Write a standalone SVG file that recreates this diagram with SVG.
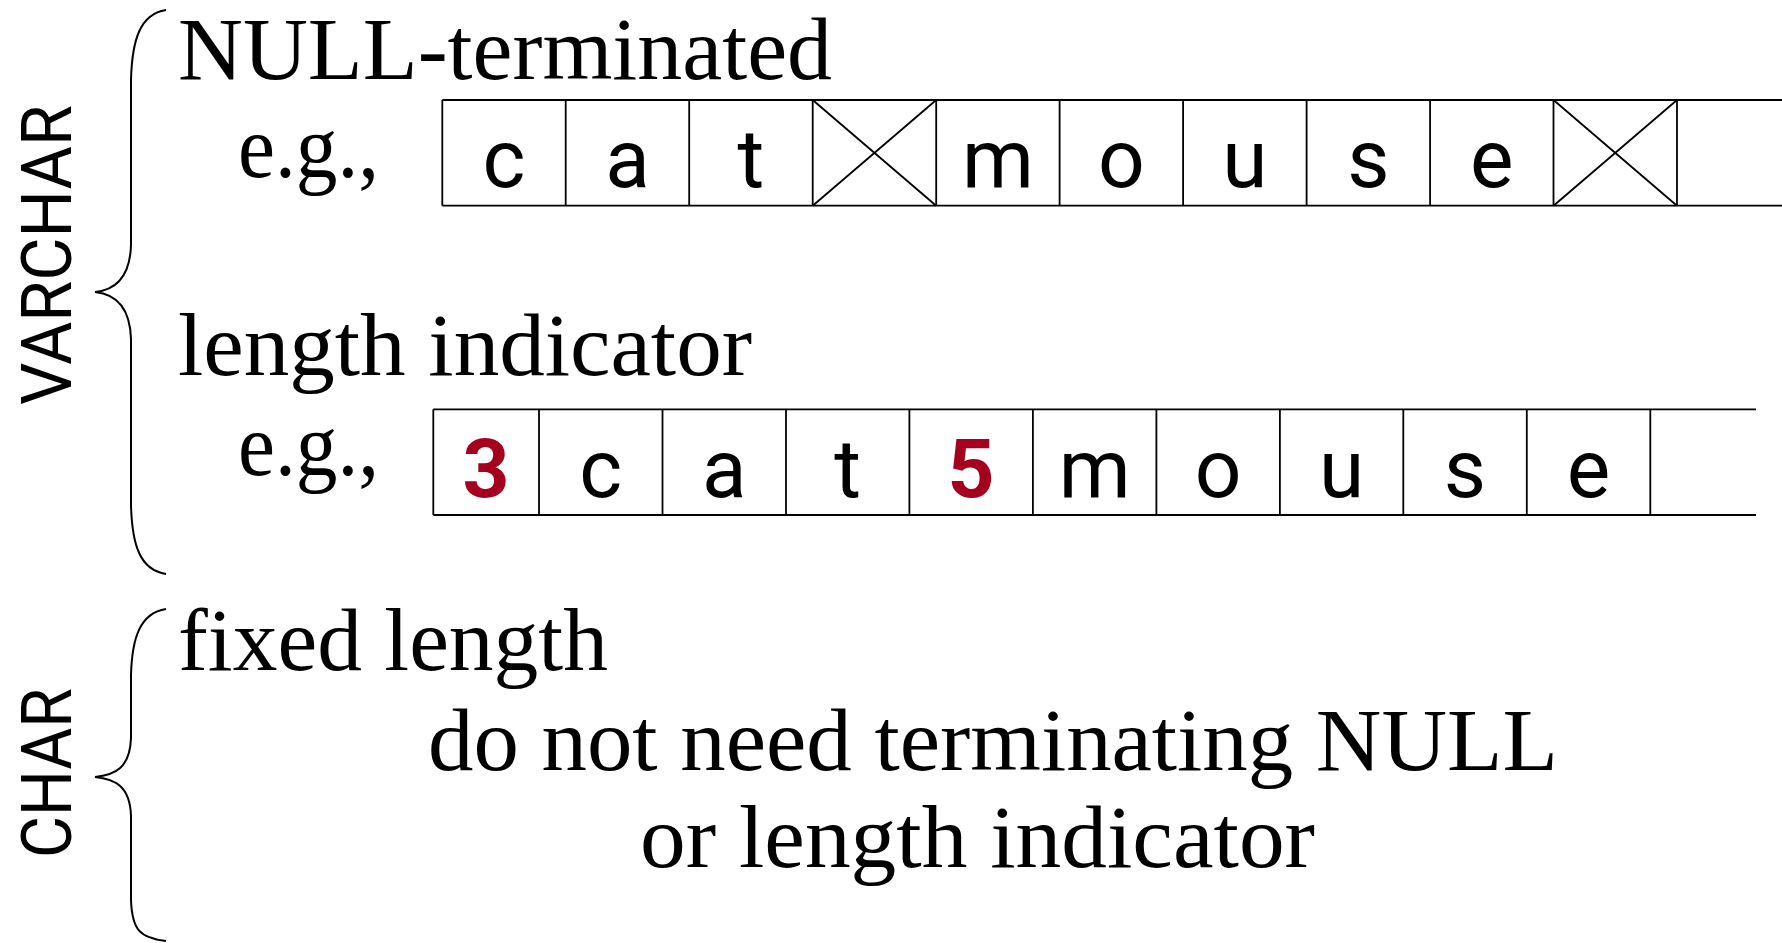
<svg xmlns="http://www.w3.org/2000/svg" width="1782" height="943" viewBox="0 0 1782 943">
<style>
.serif{font-family:"Liberation Serif","DejaVu Serif",serif;font-size:88px;fill:#000}
.cell{font-family:Roboto,"Liberation Sans",sans-serif;font-size:82px;fill:#000;text-anchor:middle}
.num{font-family:Roboto,"Liberation Sans",sans-serif;font-size:82px;font-weight:bold;fill:#A6001F;text-anchor:middle}
.side{font-family:Roboto,"Liberation Sans",sans-serif;font-size:70px;font-weight:normal;fill:#000;text-anchor:middle}
.ln{stroke:#000;stroke-width:1.8;fill:none}
.brace{stroke:#000;stroke-width:2;fill:none}
</style>
<rect width="1782" height="943" fill="#fff"/>

<g id="varchar-label">
  <text class="side" transform="translate(71,255) rotate(-90)" textLength="300" lengthAdjust="spacingAndGlyphs">VARCHAR</text>
  <path class="brace" d="M166,10 C140,14 132,40 131,80 L131,245 C130,278 115,290 95,292 C115,294 130,306 131,339 L131,505 C132,545 140,570 166,574"/>
</g>

<g id="char-label">
  <text class="side" transform="translate(71,773) rotate(-90)" textLength="170" lengthAdjust="spacingAndGlyphs">CHAR</text>
  <path class="brace" d="M166,609 C140,613 132,638 131,675 L131,738 C130,768 115,775 95,777 C115,779 130,786 131,816 L131,900 C132,930 140,938 166,941"/>
</g>

<g id="null-terminated">
  <text class="serif" x="178" y="79" textLength="654" lengthAdjust="spacingAndGlyphs">NULL-terminated</text>
  <text class="serif" x="238" y="177" textLength="141" lengthAdjust="spacingAndGlyphs">e.g.,</text>
  <g id="row1">
    <line class="ln" x1="442.3" y1="100" x2="1782" y2="100"/>
    <line class="ln" x1="442.3" y1="205.7" x2="1782" y2="205.7"/>
    <line class="ln" x1="442.3" y1="100" x2="442.3" y2="205.7"/>
    <line class="ln" x1="565.7" y1="100" x2="565.7" y2="205.7"/>
    <line class="ln" x1="689.2" y1="100" x2="689.2" y2="205.7"/>
    <line class="ln" x1="812.7" y1="100" x2="812.7" y2="205.7"/>
    <line class="ln" x1="936.2" y1="100" x2="936.2" y2="205.7"/>
    <line class="ln" x1="1059.6" y1="100" x2="1059.6" y2="205.7"/>
    <line class="ln" x1="1183.1" y1="100" x2="1183.1" y2="205.7"/>
    <line class="ln" x1="1306.6" y1="100" x2="1306.6" y2="205.7"/>
    <line class="ln" x1="1430.1" y1="100" x2="1430.1" y2="205.7"/>
    <line class="ln" x1="1553.5" y1="100" x2="1553.5" y2="205.7"/>
    <line class="ln" x1="1677" y1="100" x2="1677" y2="205.7"/>
    <path class="ln" d="M812.7,100 L936.2,205.7 M812.7,205.7 L936.2,100"/>
    <path class="ln" d="M1553.5,100 L1677,205.7 M1553.5,205.7 L1677,100"/>
    <text class="cell" x="504" y="187">c</text>
    <text class="cell" x="627.5" y="187">a</text>
    <text class="cell" x="751" y="187">t</text>
    <text class="cell" x="998" y="187">m</text>
    <text class="cell" x="1121.4" y="187">o</text>
    <text class="cell" x="1244.8" y="187">u</text>
    <text class="cell" x="1368.3" y="187">s</text>
    <text class="cell" x="1491.8" y="187">e</text>
  </g>
</g>

<g id="length-indicator">
  <text class="serif" x="178" y="375" textLength="574" lengthAdjust="spacingAndGlyphs">length indicator</text>
  <text class="serif" x="238" y="475" textLength="141" lengthAdjust="spacingAndGlyphs">e.g.,</text>
  <g id="row2">
    <line class="ln" x1="433.3" y1="409.3" x2="1756" y2="409.3"/>
    <line class="ln" x1="433.3" y1="515" x2="1756" y2="515"/>
    <line class="ln" x1="433.3" y1="409.3" x2="433.3" y2="515"/>
    <line class="ln" x1="539" y1="409.3" x2="539" y2="515"/>
    <line class="ln" x1="662.5" y1="409.3" x2="662.5" y2="515"/>
    <line class="ln" x1="786" y1="409.3" x2="786" y2="515"/>
    <line class="ln" x1="909.4" y1="409.3" x2="909.4" y2="515"/>
    <line class="ln" x1="1032.9" y1="409.3" x2="1032.9" y2="515"/>
    <line class="ln" x1="1156.4" y1="409.3" x2="1156.4" y2="515"/>
    <line class="ln" x1="1279.9" y1="409.3" x2="1279.9" y2="515"/>
    <line class="ln" x1="1403.3" y1="409.3" x2="1403.3" y2="515"/>
    <line class="ln" x1="1526.8" y1="409.3" x2="1526.8" y2="515"/>
    <line class="ln" x1="1650.3" y1="409.3" x2="1650.3" y2="515"/>
    <text class="num" x="486" y="497">3</text>
    <text class="cell" x="600.7" y="497">c</text>
    <text class="cell" x="724.2" y="497">a</text>
    <text class="cell" x="847.7" y="497">t</text>
    <text class="num" x="971.1" y="497">5</text>
    <text class="cell" x="1094.6" y="497">m</text>
    <text class="cell" x="1218.1" y="497">o</text>
    <text class="cell" x="1341.6" y="497">u</text>
    <text class="cell" x="1465" y="497">s</text>
    <text class="cell" x="1588.5" y="497">e</text>
  </g>
</g>

<g id="fixed-length">
  <text class="serif" x="178" y="670" textLength="430" lengthAdjust="spacingAndGlyphs">fixed length</text>
  <text class="serif" x="428" y="770" textLength="1130" lengthAdjust="spacingAndGlyphs">do not need terminating NULL</text>
  <text class="serif" x="640" y="867" textLength="675" lengthAdjust="spacingAndGlyphs">or length indicator</text>
</g>
</svg>
